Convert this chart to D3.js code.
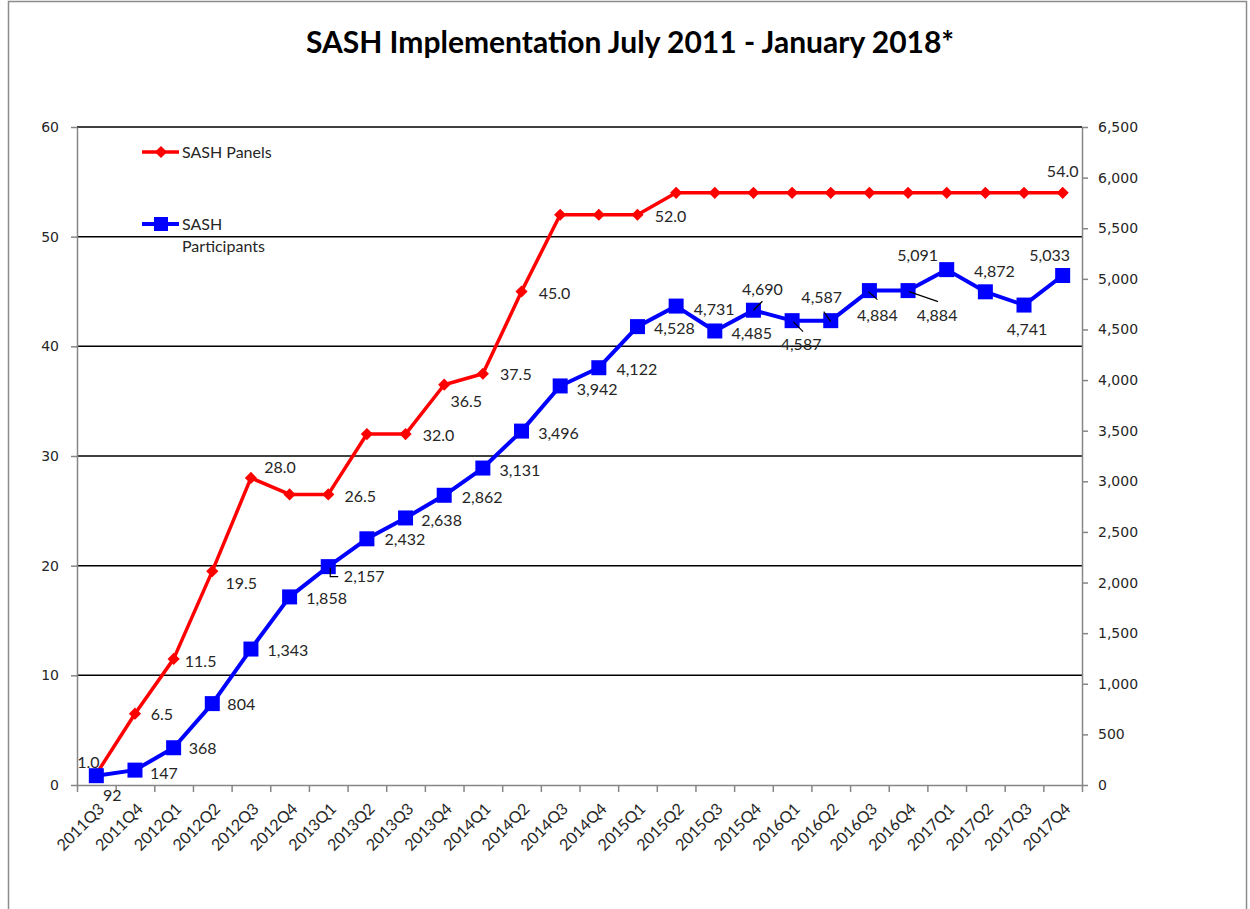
<!DOCTYPE html>
<html>
<head>
<meta charset="utf-8">
<script src="https://cdn.jsdelivr.net/npm/d3@7"></script>
<style>
  body { margin: 0; background: #fff; }
  svg { display: block; }
  text { fill: #262626; }
</style>
</head>
<body>
<svg id="chart"></svg>
<script>
const quarters = [
    "2011Q3", "2011Q4", "2012Q1", "2012Q2", "2012Q3", "2012Q4", "2013Q1", "2013Q2", "2013Q3",
    "2013Q4", "2014Q1", "2014Q2", "2014Q3", "2014Q4", "2015Q1", "2015Q2", "2015Q3", "2015Q4",
    "2016Q1", "2016Q2", "2016Q3", "2016Q4", "2017Q1", "2017Q2", "2017Q3", "2017Q4"
];
const panels = [
    1.0, 6.5, 11.5, 19.5, 28.0, 26.5, 26.5, 32.0, 32.0, 36.5, 37.5, 45.0, 52.0,
    52.0, 52.0, 54.0, 54.0, 54.0, 54.0, 54.0, 54.0, 54.0, 54.0, 54.0, 54.0, 54.0
];
const participants = [
    92, 147, 368, 804, 1343, 1858, 2157, 2432, 2638, 2862, 3131, 3496, 3942,
    4122, 4528, 4731, 4485, 4690, 4587, 4587, 4884, 4884, 5091, 4872, 4741, 5033
];
// which points carry a value label
const panelLabelIdx = [0, 1, 2, 3, 4, 6, 8, 9, 10, 11, 14, 25];
const leftTicks = [0, 10, 20, 30, 40, 50, 60];
const rightTicks = [0, 500, 1000, 1500, 2000, 2500, 3000, 3500, 4000, 4500, 5000, 5500, 6000, 6500];

// label placement (offset of label centre from point), like Excel's hand-dragged labels
const panelOffsets = {
    0: [-8, -12], 1: [27, 1], 2: [27, 3], 3: [29, 12], 4: [29, -11], 6: [32, 2],
    8: [33, 1], 9: [22, 17], 10: [33, 1], 11: [33, 2], 14: [33, 2], 25: [0, -21]
};
const partOffsets = [
    [16, 20], [29, 3], [29, 1], [29, 1], [37, 1], [37, 1], [36, 10], [38, 1], [36, 2],
    [38, 2], [37, 2], [37, 2], [37, 3], [38, 2], [37, 2], [38, 3], [37, 2], [9, -21],
    [9, 24], [-9, -23], [8, 25], [29, 25], [-29, -14], [9, -20], [3, 24], [-13, -20]
];
const partLeaders = {
    6: [[2, 1], [2, 10], [10, 10]],
    17: [[0, 0], [9, -9]],
    18: [[1, 1], [11, 11]],
    19: [[-7, -9], [0, 1]],
    20: [[-1, 1], [8, 9]],
    21: [[1, 1], [30, 11]]
};

const width = 1250, height = 909;
const plotLeft = 77, plotRight = 1082, plotTop = 127, plotBottom = 785;
const red = "#ff0000", blue = "#0000ff", axisGray = "#868686";

const svg = d3.select("#chart").attr("width", width).attr("height", height);

// outer chart frame
svg.append("rect")
    .attr("x", 8.5).attr("y", 1.5)
    .attr("width", 1238).attr("height", 940)
    .attr("fill", "none").attr("stroke", "#8c8c8c").attr("stroke-width", 1.5);

svg.append("text")
    .attr("x", 630).attr("y", 53)
    .attr("text-anchor", "middle")
    .style("font-family", "Lato, 'Open Sans', sans-serif")
    .style("font-weight", "bold")
    .style("font-size", "30px")
    .style("fill", "#000")
    .text("SASH Implementation July 2011 - January 2018*");

const xBand = d3.scaleBand().domain(quarters).range([plotLeft, plotRight]);
const xIdx = d3.scaleLinear().domain([0, quarters.length]).range([plotLeft, plotRight]);
const yL = d3.scaleLinear().domain([0, 60]).range([plotBottom, plotTop]);
const yR = d3.scaleLinear().domain([0, 6500]).range([plotBottom, plotTop]);
const cx = (i) => xBand(quarters[i]) + xBand.bandwidth() / 2;

// gridlines
svg.append("g")
    .selectAll("line")
    .data(leftTicks.filter((d) => d > 0))
    .enter()
    .append("line")
    .attr("x1", plotLeft).attr("x2", plotRight)
    .attr("y1", (d) => yL(d)).attr("y2", (d) => yL(d))
    .attr("stroke", "#000").attr("stroke-width", 1.5);

// axes
const styleAxis = (g) => {
    g.select(".domain").attr("stroke", axisGray).attr("stroke-width", 1.5);
    g.selectAll(".tick line").attr("stroke", axisGray).attr("stroke-width", 1.5);
    g.selectAll(".tick text")
        .style("font-family", "'DejaVu Sans', Verdana, sans-serif")
        .style("font-size", "14px")
        .style("fill", "#262626");
};

svg.append("g")
    .attr("transform", `translate(${plotLeft},0)`)
    .call(d3.axisLeft(yL).tickValues(leftTicks).tickSize(6).tickSizeOuter(0).tickPadding(12))
    .call(styleAxis);

svg.append("g")
    .attr("transform", `translate(${plotRight},0)`)
    .call(d3.axisRight(yR).tickValues(rightTicks).tickSize(6).tickSizeOuter(0).tickPadding(10)
        .tickFormat(d3.format(",")))
    .call(styleAxis);

svg.append("g")
    .attr("transform", `translate(0,${plotBottom})`)
    .call(d3.axisBottom(xIdx).tickValues(d3.range(quarters.length + 1)).tickSize(7)
        .tickSizeOuter(0).tickFormat(""))
    .call(styleAxis);

// rotated category labels
svg.append("g")
    .selectAll("text")
    .data(quarters)
    .enter()
    .append("text")
    .attr("transform", (d, i) => `translate(${cx(i) + 5},${plotBottom + 21}) rotate(-45)`)
    .attr("text-anchor", "end")
    .attr("dy", "0.35em")
    .style("font-family", "Lato, sans-serif")
    .style("font-size", "16px")
    .text((d) => d);

// lines
const panelLine = d3.line().x((d, i) => cx(i)).y((d) => yL(d));
const partLine = d3.line().x((d, i) => cx(i)).y((d) => yR(d));

svg.append("path")
    .datum(panels)
    .attr("d", panelLine)
    .attr("fill", "none").attr("stroke", red).attr("stroke-width", 3.5)
    .attr("stroke-linejoin", "round");

svg.append("path")
    .datum(participants)
    .attr("d", partLine)
    .attr("fill", "none").attr("stroke", blue).attr("stroke-width", 4)
    .attr("stroke-linejoin", "round");

const diamond = d3.symbol().type(d3.symbolDiamond2).size(95);

svg.append("g")
    .selectAll("path")
    .data(panels)
    .enter()
    .append("path")
    .attr("d", diamond)
    .attr("transform", (d, i) => `translate(${cx(i)},${yL(d)})`)
    .attr("fill", red);

svg.append("g")
    .selectAll("rect")
    .data(participants)
    .enter()
    .append("rect")
    .attr("x", (d, i) => cx(i) - 7.5).attr("y", (d) => yR(d) - 7.5)
    .attr("width", 15).attr("height", 15)
    .attr("fill", blue);

// value labels
const labelFont = (sel) => sel
    .attr("text-anchor", "middle")
    .attr("dy", "0.35em")
    .style("font-family", "Lato, sans-serif")
    .style("font-size", "16px");

svg.append("g")
    .selectAll("text")
    .data(panelLabelIdx)
    .enter()
    .append("text")
    .attr("x", (i) => cx(i) + panelOffsets[i][0])
    .attr("y", (i) => yL(panels[i]) + panelOffsets[i][1])
    .call(labelFont)
    .text((i) => d3.format(".1f")(panels[i]));

svg.append("g")
    .selectAll("polyline")
    .data(Object.keys(partLeaders).map(Number))
    .enter()
    .append("polyline")
    .attr("points", (i) => partLeaders[i]
        .map((p) => `${cx(i) + p[0]},${yR(participants[i]) + p[1]}`).join(" "))
    .attr("fill", "none").attr("stroke", "#000").attr("stroke-width", 1.2);

svg.append("g")
    .selectAll("text")
    .data(participants)
    .enter()
    .append("text")
    .attr("x", (d, i) => cx(i) + partOffsets[i][0])
    .attr("y", (d, i) => yR(d) + partOffsets[i][1])
    .call(labelFont)
    .text((d) => d3.format(",")(d));

// legend
const legend = svg.append("g").attr("transform", "translate(142,0)");
legend.append("line").attr("x1", 0).attr("x2", 37).attr("y1", 152).attr("y2", 152)
    .attr("stroke", red).attr("stroke-width", 3.5);
legend.append("path").attr("d", diamond).attr("transform", "translate(19,152)").attr("fill", red);
legend.append("line").attr("x1", 0).attr("x2", 37).attr("y1", 224).attr("y2", 224)
    .attr("stroke", blue).attr("stroke-width", 4);
legend.append("rect").attr("x", 12).attr("y", 217).attr("width", 14).attr("height", 14).attr("fill", blue);

const legText = legend.append("g")
    .style("font-family", "Lato, sans-serif")
    .style("font-size", "16px");
legText.append("text").attr("x", 40).attr("y", 152).attr("dy", "0.35em").text("SASH Panels");
legText.append("text").attr("x", 40).attr("y", 224).attr("dy", "0.35em").text("SASH");
legText.append("text").attr("x", 40).attr("y", 246).attr("dy", "0.35em").text("Participants");
</script>
</body>
</html>
